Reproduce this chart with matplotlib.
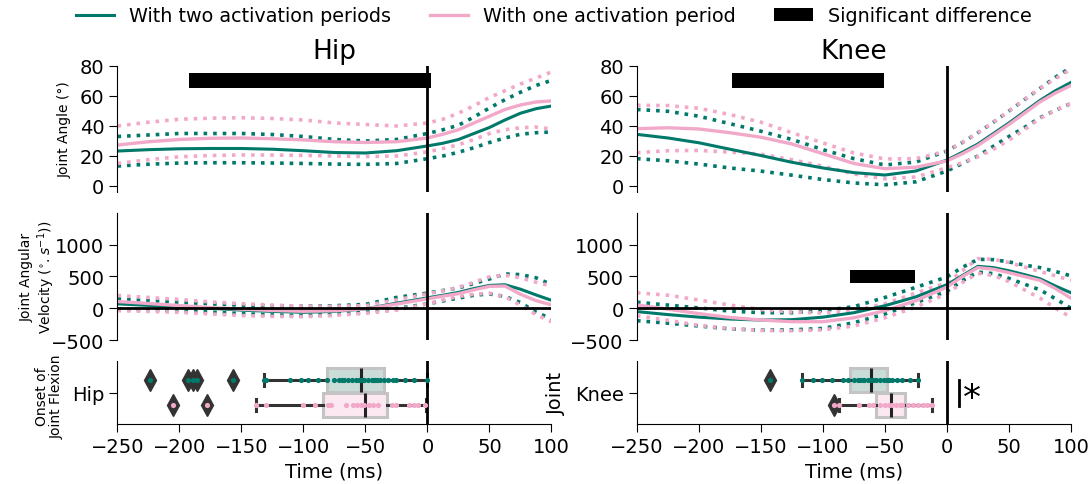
import matplotlib.pyplot as plt
from matplotlib.lines import Line2D
from matplotlib.patches import Patch

TEAL = "#00796b"
PINK = "#f2a9c9"

# time axis (ms) shared by all curves
time_ms = [-250, -225, -200, -175, -150, -125, -100, -75, -50, -25, 0,
           12.5, 25, 37.5, 50, 62.5, 75, 87.5, 100]

# Hip angle (deg)
hip_ang_two = [23.3, 24.2, 24.8, 25, 25, 24.5, 23.5, 22.3, 22, 23.5, 26.7, 28.5, 31, 35, 39, 44, 48.5, 51.5, 53.3]
hip_ang_two_hi = [33, 34, 35, 35, 35, 34.3, 33, 31, 30, 31, 35, 37.5, 40.5, 46, 52, 57.5, 62.5, 67, 70.4]
hip_ang_two_lo = [13.3, 14.5, 15.3, 15.5, 15.5, 15.3, 15, 14.6, 14.4, 15, 18.2, 20, 22.5, 25.5, 29, 32, 34.5, 35.5, 36]
hip_ang_one = [27.3, 29.5, 31, 31.8, 32, 31.5, 30.7, 29.5, 29, 29.5, 32, 34.5, 37.5, 42, 46.5, 51, 54, 56, 56.7]
hip_ang_one_hi = [40, 42.5, 44.5, 45.2, 45.5, 45, 44, 42, 41, 40, 42, 44.5, 48.5, 53.5, 59, 63.5, 68, 72, 76]
hip_ang_one_lo = [15, 17.5, 19.5, 20.3, 20.7, 20.6, 20.4, 20, 19.6, 20, 22.7, 25, 27.5, 31, 35, 37.5, 38.8, 39.3, 38]

# Knee angle (deg)
knee_ang_two = [34.4, 32, 28.8, 24.5, 20.3, 15.8, 12, 8.9, 7.3, 10, 17.3, 22.5, 28, 35, 42, 49.5, 57, 63.5, 69]
knee_ang_two_hi = [51, 49.8, 46.5, 41.5, 36.5, 31, 24.2, 18.2, 14, 16, 23.3, 29, 35.5, 42.5, 50, 57.5, 65, 72.5, 79]
knee_ang_two_lo = [18.2, 16.8, 14.6, 12, 9.9, 7.2, 4.3, 2, 0.8, 2.8, 10, 15, 20, 26.5, 33, 39, 45.5, 50.5, 55]
knee_ang_one = [38.2, 38.8, 38, 35.5, 32.5, 28, 21.5, 15, 11.5, 12.5, 16.7, 21.5, 27, 34, 41, 48.5, 56, 62, 67]
knee_ang_one_hi = [53.8, 53.6, 51.8, 47.6, 42.5, 35.5, 28.7, 22, 18, 18.2, 23.3, 29, 35.5, 42.5, 50, 57.5, 65, 71.5, 77.8]
knee_ang_one_lo = [22.2, 23.5, 23.7, 22.6, 21.2, 17.5, 13.2, 8, 4.8, 6, 12.2, 15.5, 19.5, 24.5, 30.5, 37.5, 45, 50.5, 55]

# Hip angular velocity (deg/s)
hip_vel_two = [69, 45, 26, 0, -30, -50, -64, -50, -10, 80, 164, 205, 250, 310, 360, 370, 300, 210, 125]
hip_vel_two_hi = [148, 120, 95, 70, 48, 38, 32, 40, 60, 170, 239, 280, 320, 390, 460, 540, 530, 480, 371]
hip_vel_two_lo = [-11, -25, -37, -60, -85, -105, -117, -95, -55, -5, 69, 115, 160, 205, 225, 185, 90, -60, -170]
hip_vel_one = [106, 75, 42, 10, -15, -35, -48, -40, -10, 65, 148, 190, 230, 290, 345, 350, 220, 120, 53]
hip_vel_one_hi = [201, 170, 138, 100, 72, 50, 32, 30, 40, 130, 228, 275, 330, 410, 495, 520, 480, 410, 350]
hip_vel_one_lo = [-37, -50, -64, -90, -115, -128, -133, -112, -80, -30, 69, 130, 185, 220, 238, 180, 50, -100, -212]

# Knee angular velocity (deg/s)
knee_vel_two = [-53, -100, -140, -170, -186, -180, -140, -70, 40, 180, 371, 515, 660, 640, 590, 530, 465, 350, 244]
knee_vel_two_hi = [95, 50, 5, -45, -70, -70, -37, 25, 170, 330, 493, 645, 770, 765, 730, 680, 640, 580, 509]
knee_vel_two_lo = [-196, -235, -280, -325, -345, -340, -318, -228, -90, 90, 265, 435, 570, 545, 470, 380, 290, 150, 0]
knee_vel_one = [53, -15, -85, -145, -185, -212, -212, -150, -40, 120, 334, 500, 640, 615, 560, 500, 440, 310, 159]
knee_vel_one_hi = [244, 205, 130, 50, -20, -60, -74, -40, 70, 240, 403, 590, 780, 770, 720, 650, 580, 510, 440]
knee_vel_one_lo = [-117, -190, -270, -320, -350, -355, -340, -280, -150, 20, 228, 405, 550, 515, 420, 290, 160, 0, -143]

# significant difference periods: (start, end, low, high)
sig_hip_ang = (-192, 3, 65, 75)
sig_knee_ang = (-173, -51, 65, 75)
sig_knee_vel = (-78, -26, 390, 610)

# onset of joint flexion (ms), individual values
hip_onset_two = [-224, -193, -189, -186, -157, -132, -130, -111, -102, -96, -88, -81, -75, -71,
                 -69, -67, -64, -61, -58, -55, -54, -52, -51, -48, -45, -44, -42, -41, -38,
                 -35, -32, -28, -25, -18, -11, 0]
hip_onset_one = [-205, -178, -138, -130, -100, -91, -80, -78, -66, -60, -57, -54, -51, -47,
                 -44, -40, -29, -25, -15, -11, -8, -2]
knee_onset_two = [-143, -117, -108, -101, -93, -84, -80, -75, -72, -70, -68, -67, -64, -61,
                  -60, -57, -54, -51, -48, -47, -44, -40, -36, -30, -23]
knee_onset_one = [-91, -87, -71, -63, -60, -54, -50, -47, -44, -41, -38, -36, -31, -27, -23,
                  -19, -16, -12]

# box statistics: q1, median, q3, whisker low, whisker high, outliers
hip_box_two = dict(q1=-81, med=-54, q3=-35, whislo=-132, whishi=0, fliers=[-224, -193, -189, -186, -157])
hip_box_one = dict(q1=-84, med=-50, q3=-33, whislo=-138, whishi=-1, fliers=[-205, -178])
knee_box_two = dict(q1=-78, med=-61, q3=-48, whislo=-117, whishi=-23, fliers=[-143])
knee_box_one = dict(q1=-57, med=-45, q3=-34, whislo=-87, whishi=-12, fliers=[-91])

plt.rcParams['font.family'] = 'DejaVu Sans'
plt.rcParams['font.size'] = 14

fig = plt.figure(figsize=(10.92, 4.85), dpi=100)

colx = [0.1076, 0.5833]
w = 0.3974
rows = [(0.6021, 0.2598), (0.2969, 0.2619), (0.1237, 0.1299)]

axes = [[fig.add_axes([cx, ry, w, rh]) for cx in colx] for ry, rh in rows]


def style(ax, show_x):
    ax.spines['top'].set_visible(False)
    ax.spines['right'].set_visible(False)
    ax.set_xlim(-250, 100)
    if not show_x:
        ax.spines['bottom'].set_visible(False)
        ax.tick_params(bottom=False, labelbottom=False)
    ax.tick_params(labelsize=14, length=6)


def curves(ax, m2, h2, l2, m1, h1, l1):
    ax.plot(time_ms, h2, ':', color=TEAL, lw=2.6)
    ax.plot(time_ms, l2, ':', color=TEAL, lw=2.6)
    ax.plot(time_ms, h1, ':', color=PINK, lw=2.6)
    ax.plot(time_ms, l1, ':', color=PINK, lw=2.6)
    ax.plot(time_ms, m2, color=TEAL, lw=2.2)
    ax.plot(time_ms, m1, color=PINK, lw=2.4)


def sig_bar(ax, sig):
    x0, x1, y0, y1 = sig
    ax.fill_between([x0, x1], [y0, y0], [y1, y1], color='black', lw=0, zorder=5)


# angles
for ax, data, title in [(axes[0][0], (hip_ang_two, hip_ang_two_hi, hip_ang_two_lo,
                                      hip_ang_one, hip_ang_one_hi, hip_ang_one_lo), "Hip"),
                        (axes[0][1], (knee_ang_two, knee_ang_two_hi, knee_ang_two_lo,
                                      knee_ang_one, knee_ang_one_hi, knee_ang_one_lo), "Knee")]:
    curves(ax, *data)
    ax.axvline(0, color='black', lw=2)
    ax.set_ylim(-4, 80)
    ax.set_yticks([0, 20, 40, 60, 80])
    ax.set_title(title, fontsize=19)
    style(ax, False)
sig_bar(axes[0][0], sig_hip_ang)
sig_bar(axes[0][1], sig_knee_ang)

# velocities
for ax, data in [(axes[1][0], (hip_vel_two, hip_vel_two_hi, hip_vel_two_lo,
                               hip_vel_one, hip_vel_one_hi, hip_vel_one_lo)),
                 (axes[1][1], (knee_vel_two, knee_vel_two_hi, knee_vel_two_lo,
                               knee_vel_one, knee_vel_one_hi, knee_vel_one_lo))]:
    curves(ax, *data)
    ax.axvline(0, color='black', lw=2)
    ax.axhline(0, color='black', lw=2)
    ax.set_ylim(-500, 1500)
    ax.set_yticks([-500, 0, 500, 1000])
    style(ax, False)
sig_bar(axes[1][1], sig_knee_vel)

# onset boxplots
for ax, joint, box2, box1, pts2, pts1 in [
        (axes[2][0], "Hip", hip_box_two, hip_box_one, hip_onset_two, hip_onset_one),
        (axes[2][1], "Knee", knee_box_two, knee_box_one, knee_onset_two, knee_onset_one)]:
    for st, pos, face in [(box2, -0.2, "#c9dcd8"), (box1, 0.2, "#fbe8f1")]:
        ax.bxp([st], positions=[pos], widths=0.37, orientation='horizontal',
               patch_artist=True, showfliers=True,
               boxprops=dict(facecolor=face, edgecolor="#c4c4c4", lw=2.2),
               whiskerprops=dict(color="#333333", lw=2.2),
               capprops=dict(color="#333333", lw=2.2),
               medianprops=dict(color="#222222", lw=2.2),
               flierprops=dict(marker='d', markerfacecolor="#333333",
                               markeredgecolor="#333333", markersize=11))
    ax.scatter(pts2, [-0.2] * len(pts2), s=14, color=TEAL, zorder=4, lw=0)
    ax.scatter(pts1, [0.2] * len(pts1), s=14, color=PINK, zorder=4, lw=0)
    ax.axvline(0, color='black', lw=2)
    ax.set_ylim(0.5, -0.5)
    ax.set_yticks([0])
    ax.set_yticklabels([joint])
    ax.set_xticks([-250, -200, -150, -100, -50, 0, 50, 100])
    ax.set_xlabel("Time (ms)", fontsize=14)
    style(ax, True)

# significance marker for knee onset
axes[2][1].plot([10, 10], [-0.2, 0.22], color='black', lw=2)
axes[2][1].text(20, 0.08, "*", fontsize=26, ha='center', va='center')

# y labels
axes[0][0].set_ylabel("Joint Angle (°)", fontsize=10)
axes[0][0].yaxis.set_label_coords(-0.105, 0.5)
axes[1][0].set_ylabel("Joint Angular\nVelocity ($^{\\circ}.s^{-1}$))", fontsize=10,
                      linespacing=1.1)
axes[1][0].yaxis.set_label_coords(-0.14, 0.5)
axes[2][0].set_ylabel("Onset of\nJoint Flexion", fontsize=10, linespacing=1.1)
axes[2][0].yaxis.set_label_coords(-0.123, 0.45)
axes[2][1].set_ylabel("Joint", fontsize=14)
axes[2][1].yaxis.set_label_coords(-0.164, 0.5)

handles = [Line2D([], [], color=TEAL, lw=2.2),
           Line2D([], [], color=PINK, lw=2.4),
           Patch(facecolor='black')]
labels = ["With two activation periods", "With one activation period", "Significant difference"]
fig.legend(handles, labels, loc='center', bbox_to_anchor=(0.507, 0.965), ncol=3,
           frameon=False, fontsize=13.8)

fig.savefig("out.png", dpi=100)
